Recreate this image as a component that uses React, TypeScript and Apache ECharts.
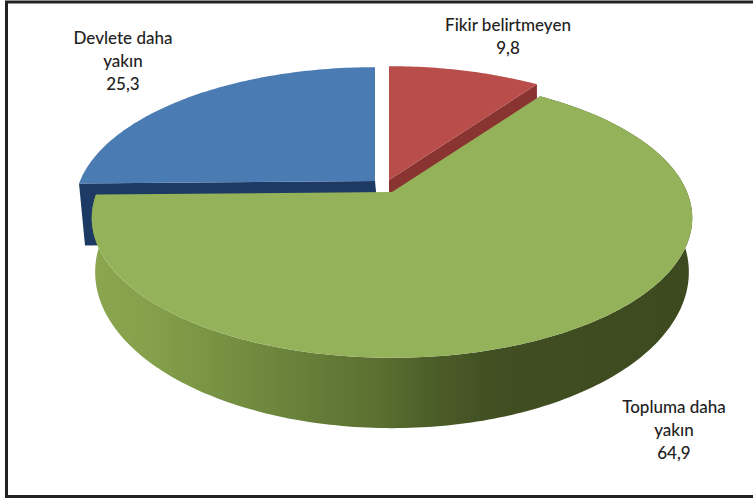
import React, { useEffect, useRef } from "react";
import * as echarts from "echarts";

const labelLines: string[][] = [["Fikir belirtmeyen"], ["Topluma daha", "yakın"], ["Devlete daha", "yakın"]];
const values: number[] = [9.8, 64.9, 25.3];
const topColors: string[] = ["#b94d4a", "#94b25a", "#4a7bb3"];
const wallColors: string[] = ["#8a3431", "#5c7030", "#1c3a63"];

const PIVOTS = [
  { x: 389, y: 180, wx: 0, wy: 52 },
  { x: 392, y: 192, wx: 0, wy: 52 },
  { x: 375, y: 181, wx: 6, wy: 62 },
];
const LABEL_POS = [
  { x: 508, y: 36 },
  { x: 674, y: 429 },
  { x: 123, y: 60.5 },
];
const A = 295, B = 135, K = 0.186;
const A2 = 292, B2 = 151, K2 = 0.18;

function project(px: number, py: number, a: number, b: number, k: number, deg: number): number[] {
  const t = (deg * Math.PI) / 180;
  const u = Math.sin(t), v = -Math.cos(t);
  const w = 1 - k * v;
  return [px + (a * u) / w, py + (b * v) / w];
}

function arcPoints(px: number, py: number, a: number, b: number, k: number, from: number, to: number): number[][] {
  const pts: number[][] = [];
  const n = Math.max(8, Math.ceil(Math.abs(to - from)));
  for (let i = 0; i <= n; i++) pts.push(project(px, py, a, b, k, from + ((to - from) * i) / n));
  return pts;
}

function renderItem(params: any, api: any) {
  const total = values.reduce((s, v) => s + v, 0);
  const angles: number[][] = [];
  let acc = 0;
  values.forEach((v) => {
    angles.push([(acc / total) * 360, ((acc + v) / total) * 360]);
    acc += v;
  });
  const [s0, e0] = angles[0], [s1, e1] = angles[1], [s2, e2] = angles[2];
  const face = (i: number, from: number, to: number) => {
    const p = PIVOTS[i];
    return {
      type: "polygon",
      shape: { points: [[p.x, p.y], ...arcPoints(p.x, p.y, A, B, K, from, to)] },
      style: { fill: topColors[i] },
    };
  };
  const radialWall = (i: number, deg: number) => {
    const p = PIVOTS[i];
    const e = project(p.x, p.y, A, B, K, deg);
    return {
      type: "polygon",
      shape: { points: [[p.x, p.y], e, [e[0] + p.wx, e[1] + p.wy], [p.x + p.wx, p.y + p.wy]] },
      style: { fill: wallColors[i] },
    };
  };
  const g = PIVOTS[1];
  const side = {
    type: "polygon",
    shape: {
      points: [
        ...arcPoints(g.x, g.y, A, B, K, s1, e1),
        ...arcPoints(g.x + g.wx, g.y + g.wy, A2, B2, K2, e1, s1),
      ],
    },
    style: {
      fill: new echarts.graphic.LinearGradient(0, 0, 1, 0, [
        { offset: 0, color: "#8aa64f" },
        { offset: 0.1, color: "#84a04a" },
        { offset: 0.32, color: "#6b843c" },
        { offset: 0.48, color: "#5a6f30" },
        { offset: 0.58, color: "#4a5b28" },
        { offset: 0.68, color: "#404e21" },
        { offset: 1, color: "#3d4a20" },
      ]),
    },
  };
  const labels = values.map((v, i) => ({
    type: "text",
    style: {
      x: LABEL_POS[i].x,
      y: LABEL_POS[i].y,
      text: [...labelLines[i], String(v).replace(".", ",")].join("\n"),
      fill: "#222222",
      font: '500 17px Lato, "Open Sans", sans-serif',
      lineHeight: 23,
      align: "center",
      verticalAlign: "middle",
    },
  }));
  return {
    type: "group",
    children: [radialWall(0, e0), radialWall(2, s2), face(2, s2, e2), face(0, s0, e0), side, face(1, s1, e1), ...labels],
  };
}

export default function App() {
  const ref = useRef<HTMLDivElement>(null);
  useEffect(() => {
    document.body.style.margin = "0";
    const chart = echarts.init(ref.current!, undefined, { renderer: "svg" });
    chart.setOption({
      animation: false,
      backgroundColor: "#ffffff",
      graphic: [
        {
          type: "polyline",
          z: 10,
          shape: { points: [[753, 2], [6.5, 2], [6.5, 496.5], [753, 496.5]] },
          style: { fill: "none", stroke: "#222222", lineWidth: 3 },
        },
      ],
      series: [
        {
          type: "custom",
          coordinateSystem: "none",
          renderItem: (p: any, api: any) => (p.dataIndex === 0 ? renderItem(p, api) : null),
          data: [values[0]],
          silent: true,
        },
      ],
    });
    return () => chart.dispose();
  }, []);
  return <div ref={ref} style={{ width: 753, height: 498 }} />;
}
